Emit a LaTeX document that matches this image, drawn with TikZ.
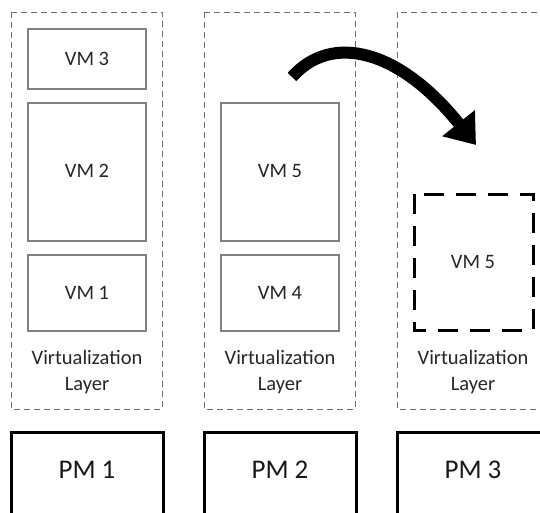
\documentclass[tikz,border=0pt]{standalone}
\usepackage{fontspec}
\setmainfont{Carlito}
\usetikzlibrary{arrows.meta}
\begin{document}
\begin{tikzpicture}[x=1pt,y=-1pt,
  layerbox/.style={draw=gray!85!black, line width=0.9pt, dash pattern=on 6pt off 4pt},
  vmbox/.style={draw=gray, line width=1.4pt, fill=white},
  vmghost/.style={draw=black, line width=3pt, dash pattern=on 20pt off 12pt},
  pmbox/.style={draw=black, line width=3pt},
  vmtext/.style={font=\fontsize{20.5}{26}\selectfont, text=black!85},
  layertext/.style={font=\fontsize{20.5}{26}\selectfont, align=center, text=black!85},
  pmtext/.style={font=\fontsize{27}{32}\selectfont, text=black!90},
  migrate/.style={line width=12pt, -{Triangle[length=28pt,width=40pt]}}]
\useasboundingbox (0,0) rectangle (540,512);

% virtualization layers (dashed frames)
\draw[layerbox] (11,12) rectangle (162,409);
\draw[layerbox] (204,12) rectangle (355,409);
\draw[layerbox] (397,12) rectangle (550,409);

% physical machines
\draw[pmbox] (11,432) rectangle (163,530);
\draw[pmbox] (204,432) rectangle (356,530);
\draw[pmbox] (397,432) rectangle (550,530);
\node[pmtext] (pm1) at (87,470) {PM 1};
\node[pmtext] (pm2) at (280,470) {PM 2};
\node[pmtext] (pm3) at (473,470) {PM 3};

% virtual machines on PM 1
\draw[vmbox] (28,29) rectangle (146,89);
\node[vmtext] (vm3) at (87,59) {VM 3};
\draw[vmbox] (28,103) rectangle (146,241);
\node[vmtext] (vm2) at (87,171) {VM 2};
\draw[vmbox] (28,255) rectangle (146,331);
\node[vmtext] (vm1) at (87,293) {VM 1};

% virtual machines on PM 2
\draw[vmbox] (221,103) rectangle (339,241);
\node[vmtext] (vm5) at (280,171) {VM 5};
\draw[vmbox] (221,255) rectangle (339,331);
\node[vmtext] (vm4) at (280,293) {VM 4};

% migrated VM on PM 3
\draw[vmghost] (414,194) rectangle (533,330);
\node[vmtext] (vm5b) at (473,262) {VM 5};

% layer captions
\node[layertext] (l1) at (87,372) {Virtualization\\Layer};
\node[layertext] (l2) at (280,372) {Virtualization\\Layer};
\node[layertext] (l3) at (473,372) {Virtualization\\Layer};

% migration arrow
\coordinate (src) at (292,77);
\coordinate (dst) at (476,145);
\draw[migrate] (src) .. controls (332,32) and (400,50) .. (dst);
\end{tikzpicture}
\end{document}
